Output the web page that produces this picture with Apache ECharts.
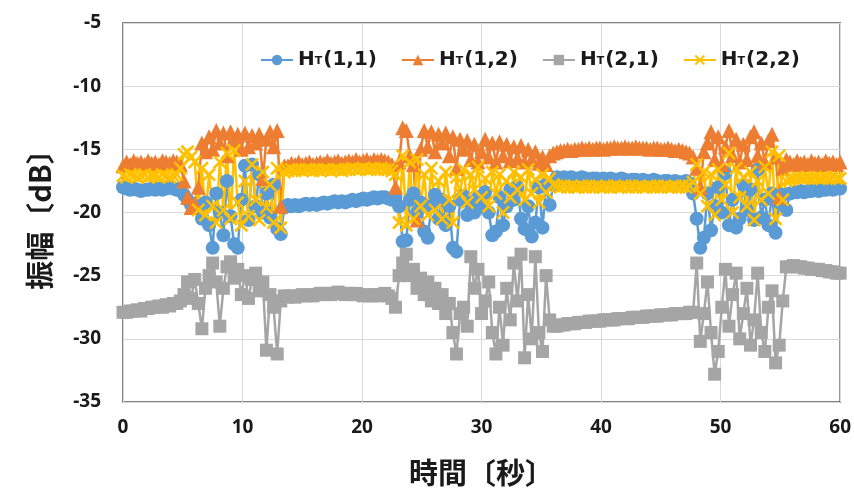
<!DOCTYPE html>
<html>
<head>
<meta charset="utf-8">
<script src="https://cdn.jsdelivr.net/npm/echarts@6/dist/echarts.min.js"></script>
<style>
html,body{margin:0;padding:0;background:#fff;}
#c{width:854px;height:492px;}
</style>
</head>
<body>
<div id="c"></div>
<script>
// time axis (seconds)
const times = [
0,0.3,0.6,0.9,1.2,1.5,1.8,2.1,2.4,2.7,
3,3.3,3.6,3.9,4.2,4.5,4.8,5.1,5.4,5.7,
6,6.3,6.6,6.9,7.2,7.5,7.8,8.1,8.4,8.7,
9,9.3,9.6,9.9,10.2,10.5,10.8,11.1,11.4,11.7,
12,12.3,12.6,12.9,13.2,13.5,13.8,14.1,14.4,14.7,
15,15.3,15.6,15.9,16.2,16.5,16.8,17.1,17.4,17.7,
18,18.3,18.6,18.9,19.2,19.5,19.8,20.1,20.4,20.7,
21,21.3,21.6,21.9,22.2,22.5,22.8,23.1,23.4,23.7,
24,24.3,24.6,24.9,25.2,25.5,25.8,26.1,26.4,26.7,
27,27.3,27.6,27.9,28.2,28.5,28.8,29.1,29.4,29.7,
30,30.3,30.6,30.9,31.2,31.5,31.8,32.1,32.4,32.7,
33,33.3,33.6,33.9,34.2,34.5,34.8,35.1,35.4,35.7,
36,36.3,36.6,36.9,37.2,37.5,37.8,38.1,38.4,38.7,
39,39.3,39.6,39.9,40.2,40.5,40.8,41.1,41.4,41.7,
42,42.3,42.6,42.9,43.2,43.5,43.8,44.1,44.4,44.7,
45,45.3,45.6,45.9,46.2,46.5,46.8,47.1,47.4,47.7,
48,48.3,48.6,48.9,49.2,49.5,49.8,50.1,50.4,50.7,
51,51.3,51.6,51.9,52.2,52.5,52.8,53.1,53.4,53.7,
54,54.3,54.6,54.9,55.2,55.5,55.8,56.1,56.4,56.7,
57,57.3,57.6,57.9,58.2,58.5,58.8,59.1,59.4,59.7,
60];

const seriesNames = ['HT(1,1)','HT(1,2)','HT(2,1)','HT(2,2)'];

const h11 = [
-18.0,-18.1,-18.2,-18.1,-18.2,-18.3,-18.2,-18.2,-18.1,-18.2,-18.1,-18.2,-18.1,-18.0,-18.1,-18.2,-18.1,
-18.6,-19.0,-19.4,-19.6,-19.5,-20.5,-19.2,-21.0,-22.8,-18.5,-20.0,-21.8,-17.5,-20.3,-22.5,-22.8,-19.0,-16.3,-20.6,-16.2,-19.5,-17.0,-20.0,-18.5,-20.4,-17.8,-21.3,-21.7,-19.6,
-19.4,-19.5,-19.4,-19.5,-19.4,-19.3,-19.4,-19.3,-19.4,-19.3,-19.2,-19.3,-19.2,-19.1,-19.2,-19.1,-19.2,-19.1,-19.0,-19.1,-19.0,-18.9,-19.0,-18.9,-18.8,-18.9,-18.8,-18.8,-18.9,-19.0,
-18.8,-19.5,-22.3,-22.2,-19.0,-18.5,-20.0,-19.2,-21.5,-22.0,-19.5,-18.6,-20.5,-19.0,-21.0,-19.5,-22.8,-23.1,-19.0,-18.7,-20.2,-19.3,-20.0,-18.8,-19.5,-18.4,-20.0,-21.8,-21.5,-18.8,-21.0,-19.5,-18.2,-19.0,-18.0,-20.5,-21.3,-19.5,-21.9,-20.8,-18.0,-21.2,-17.8,-19.4,-17.8,
-17.2,-17.3,-17.2,-17.3,-17.2,-17.3,-17.3,-17.2,-17.3,-17.4,-17.3,-17.3,-17.4,-17.3,-17.4,-17.3,-17.4,-17.4,-17.3,-17.4,-17.5,-17.4,-17.4,-17.5,-17.4,-17.5,-17.5,-17.4,-17.5,-17.6,-17.5,-17.5,-17.6,-17.5,-17.6,-17.6,-17.5,-17.7,-18.5,
-20.5,-22.8,-22.0,-18.5,-21.4,-19.5,-18.0,-20.0,-16.9,-21.0,-19.0,-21.2,-20.5,-17.8,-19.8,-18.2,-20.6,-16.6,-20.4,-19.0,-21.0,-18.5,-21.6,-19.2,-18.6,-19.8,
-18.5,-18.4,-18.4,-18.3,-18.4,-18.3,-18.3,-18.2,-18.3,-18.2,-18.2,-18.1,-18.2,-18.1,-18.1];

const h12 = [
-16.3,-16.0,-16.2,-15.9,-16.1,-16.0,-16.2,-15.9,-16.1,-16.0,-16.2,-15.9,-16.0,-16.1,-15.9,-16.0,-16.2,
-17.5,-18.8,-19.6,-19.3,-18.0,-14.5,-15.2,-14.0,-15.0,-13.5,-14.5,-13.7,-15.5,-13.6,-14.3,-13.8,-15.0,-13.7,-14.8,-13.9,-14.5,-13.8,-17.3,-14.2,-13.6,-14.8,-13.5,-19.5,-16.3,
-16.3,-16.1,-16.2,-16.0,-16.2,-16.1,-16.0,-16.2,-16.1,-16.0,-16.1,-15.9,-16.1,-16.0,-15.9,-16.1,-16.0,-15.9,-16.0,-15.8,-16.0,-15.9,-15.8,-16.0,-15.8,-15.9,-15.8,-15.9,-16.0,-16.2,
-18.0,-16.0,-13.3,-13.5,-15.5,-16.2,-20.6,-15.0,-13.5,-14.8,-13.6,-15.2,-13.8,-14.5,-13.7,-15.5,-14.0,-16.5,-14.2,-15.0,-14.3,-15.8,-14.6,-16.0,-15.2,-14.2,-15.6,-14.5,-16.0,-14.4,-15.5,-14.6,-15.9,-14.8,-15.7,-14.7,-16.0,-15.0,-15.8,-15.2,-16.1,-15.6,-16.2,-15.5,-15.3,
-15.2,-15.1,-15.1,-15.0,-15.1,-15.0,-15.0,-14.9,-15.0,-14.9,-15.0,-14.9,-14.9,-15.0,-14.9,-14.9,-14.8,-14.9,-14.9,-14.8,-14.9,-14.9,-14.8,-14.9,-14.9,-14.9,-15.0,-14.9,-14.9,-15.0,-15.0,-14.9,-15.0,-15.1,-15.0,-15.1,-15.2,-15.3,-15.6,
-16.5,-18.0,-15.2,-14.5,-13.6,-15.8,-14.0,-16.2,-14.8,-13.5,-15.5,-14.2,-16.0,-14.6,-15.8,-14.0,-13.6,-15.5,-14.5,-16.0,-14.3,-13.8,-15.6,-18.8,-16.5,-15.8,
-16.0,-16.2,-15.9,-16.1,-16.0,-16.2,-15.9,-16.1,-16.0,-16.2,-15.9,-16.1,-16.0,-16.2,-16.0];

const h21 = [
-27.9,-27.9,-27.8,-27.8,-27.7,-27.8,-27.6,-27.6,-27.5,-27.5,-27.4,-27.5,-27.3,-27.4,-27.2,-27.2,-27.0,
-26.5,-25.5,-26.8,-25.3,-27.2,-29.2,-26.0,-25.0,-24.0,-25.5,-29.0,-26.0,-24.3,-23.9,-25.2,-24.5,-26.5,-25.0,-26.8,-25.3,-24.8,-26.2,-25.5,-30.9,-26.5,-27.5,-31.2,-27.0,-26.6,
-26.7,-26.6,-26.7,-26.6,-26.5,-26.6,-26.5,-26.6,-26.5,-26.4,-26.5,-26.4,-26.5,-26.4,-26.3,-26.4,-26.5,-26.4,-26.5,-26.4,-26.5,-26.6,-26.5,-26.6,-26.5,-26.6,-26.5,-26.4,-26.6,-26.8,
-27.5,-25.0,-24.0,-23.3,-25.0,-24.5,-26.0,-25.2,-26.5,-25.5,-27.0,-26.0,-27.2,-26.5,-28.0,-27.2,-29.5,-31.2,-28.0,-27.5,-29.0,-23.5,-26.0,-24.5,-28.0,-27.0,-25.5,-29.5,-31.2,-27.5,-30.5,-26.0,-28.5,-24.0,-27.0,-23.3,-31.5,-26.5,-30.0,-23.5,-29.5,-31.0,-25.0,-28.5,-29.0,
-29.0,-28.9,-28.9,-28.8,-28.8,-28.8,-28.7,-28.7,-28.7,-28.6,-28.6,-28.6,-28.6,-28.5,-28.5,-28.5,-28.5,-28.4,-28.4,-28.4,-28.4,-28.3,-28.3,-28.3,-28.3,-28.2,-28.2,-28.2,-28.2,-28.1,-28.1,-28.1,-28.1,-28.0,-28.0,-28.0,-28.0,-27.9,-27.9,
-24.0,-30.2,-28.0,-25.5,-29.5,-32.8,-31.0,-27.5,-24.5,-29.0,-26.5,-24.8,-30.0,-28.0,-26.0,-30.5,-28.5,-24.8,-29.5,-31.0,-27.5,-26.2,-31.9,-30.5,-27.0,-24.3,
-24.3,-24.2,-24.3,-24.3,-24.4,-24.4,-24.5,-24.5,-24.5,-24.6,-24.6,-24.7,-24.7,-24.8,-24.8];

const h22 = [
-17.1,-17.2,-17.0,-17.1,-17.2,-17.1,-17.0,-17.2,-17.1,-17.1,-17.2,-17.0,-17.1,-17.2,-17.1,-17.0,-16.5,
-15.4,-15.2,-15.6,-16.0,-19.8,-16.5,-20.2,-17.0,-19.5,-20.8,-16.0,-19.8,-15.3,-20.5,-15.1,-19.2,-21.0,-17.5,-20.3,-16.2,-19.0,-20.6,-16.8,-19.6,-17.8,-20.8,-16.5,-21.2,-16.8,
-16.7,-16.6,-16.7,-16.6,-16.7,-16.6,-16.6,-16.7,-16.6,-16.7,-16.6,-16.6,-16.7,-16.6,-16.6,-16.7,-16.6,-16.6,-16.5,-16.6,-16.6,-16.5,-16.6,-16.6,-16.5,-16.6,-16.5,-16.6,-16.6,-16.7,
-17.0,-20.8,-15.5,-21.0,-16.0,-20.5,-15.8,-19.5,-17.0,-20.2,-16.5,-19.8,-17.5,-20.5,-16.8,-19.0,-20.8,-17.2,-18.5,-16.6,-19.2,-17.0,-18.2,-16.4,-18.8,-17.3,-19.5,-16.8,-18.5,-17.0,-20.0,-17.5,-18.8,-16.8,-18.2,-17.2,-19.0,-16.6,-18.5,-17.4,-19.2,-17.0,-18.4,-17.3,-17.8,
-17.9,-18.0,-17.9,-18.0,-17.9,-18.0,-18.0,-17.9,-18.0,-17.9,-18.0,-17.9,-18.0,-18.0,-17.9,-18.0,-17.9,-18.0,-18.0,-17.9,-18.0,-17.9,-18.0,-17.9,-18.0,-18.0,-17.9,-18.0,-17.9,-18.0,-17.9,-18.0,-18.0,-17.9,-18.0,-17.9,-18.0,-17.9,-17.6,
-16.2,-18.5,-16.8,-19.5,-17.0,-20.2,-16.6,-19.0,-17.8,-15.3,-20.0,-16.5,-18.8,-17.2,-19.5,-16.8,-20.6,-17.5,-19.0,-16.4,-18.5,-15.2,-20.5,-15.5,-19.0,-17.5,
-17.4,-17.3,-17.2,-17.3,-17.3,-17.2,-17.3,-17.2,-17.3,-17.3,-17.2,-17.3,-17.2,-17.3,-17.3];

const xTicks = {min: 0, max: 60, step: 10};
const yTicks = {min: -35, max: -5, step: 5};

const colors = ['#5B9BD5', '#ED7D31', '#A5A5A5', '#FFC000'];
const symbols = ['circle', 'triangle', 'rect',
  'path://M0,1.3L1.3,0L10,8.7L8.7,10Z M8.7,0L10,1.3L1.3,10L0,8.7Z'];
const symbolSizes = [14, 15, 13, 14];
const allData = [h11, h12, h21, h22];

const chart = echarts.init(document.getElementById('c'), null, {renderer: 'canvas'});
const FONT = '"Noto Sans", sans-serif';
const LFONT = '"DejaVu Sans", sans-serif';
const CJK = '"Noto Sans CJK JP", sans-serif';

const series = allData.map((vals, k) => ({
  name: seriesNames[k],
  type: 'line',
  data: vals.map((v, i) => [times[i], v]),
  symbol: symbols[k],
  symbolSize: symbolSizes[k],
  showAllSymbol: true,
  clip: false,
  lineStyle: {color: colors[k], width: 2.5},
  itemStyle: {color: colors[k], borderWidth: 0},
  emphasis: {disabled: true},
  animation: false
}));

chart.setOption({
  animation: false,
  backgroundColor: '#fff',
  grid: {left: 123, top: 23, right: 12, bottom: 90, show: true,
         borderColor: '#595959', borderWidth: 1.5, backgroundColor: 'transparent'},
  legend: {
    left: 255, top: 45,
    itemWidth: 32, itemHeight: 13, itemGap: 24,
    data: seriesNames,
    formatter: n => '{h|H}{t|T}{h|' + n.slice(2) + '}',
    textStyle: {
      color: '#1a1a1a',
      rich: {
        h: {fontFamily: LFONT, fontSize: 20, fontWeight: 'bold', color: '#1a1a1a', lineHeight: 24},
        t: {fontFamily: LFONT, fontSize: 11, fontWeight: 'bold', color: '#1a1a1a', lineHeight: 11,
            verticalAlign: 'bottom', padding: [0, 1, 5, 0]}
      }
    }
  },
  xAxis: {
    type: 'value', min: xTicks.min, max: xTicks.max, interval: xTicks.step,
    name: '時間〔秒〕', nameLocation: 'middle', nameGap: 56,
    nameTextStyle: {fontFamily: CJK, fontSize: 29, fontWeight: 'bold', color: '#1a1a1a'},
    axisLine: {show: false}, axisTick: {show: false},
    axisLabel: {fontFamily: FONT, fontSize: 19, fontWeight: 'bold', color: '#1a1a1a', margin: 16},
    splitLine: {show: true, lineStyle: {color: '#D9D9D9', width: 1}}
  },
  yAxis: {
    type: 'value', min: yTicks.min, max: yTicks.max, interval: yTicks.step,
    name: '振幅〔dB〕', nameLocation: 'middle', nameGap: 69, nameRotate: 90,
    nameTextStyle: {fontFamily: CJK, fontSize: 29, fontWeight: 'bold', color: '#1a1a1a'},
    axisLine: {show: false}, axisTick: {show: false},
    axisLabel: {fontFamily: FONT, fontSize: 19, fontWeight: 'bold', color: '#1a1a1a', margin: 22},
    splitLine: {show: true, lineStyle: {color: '#D9D9D9', width: 1}}
  },
  series: series
});
</script>
</body>
</html>
